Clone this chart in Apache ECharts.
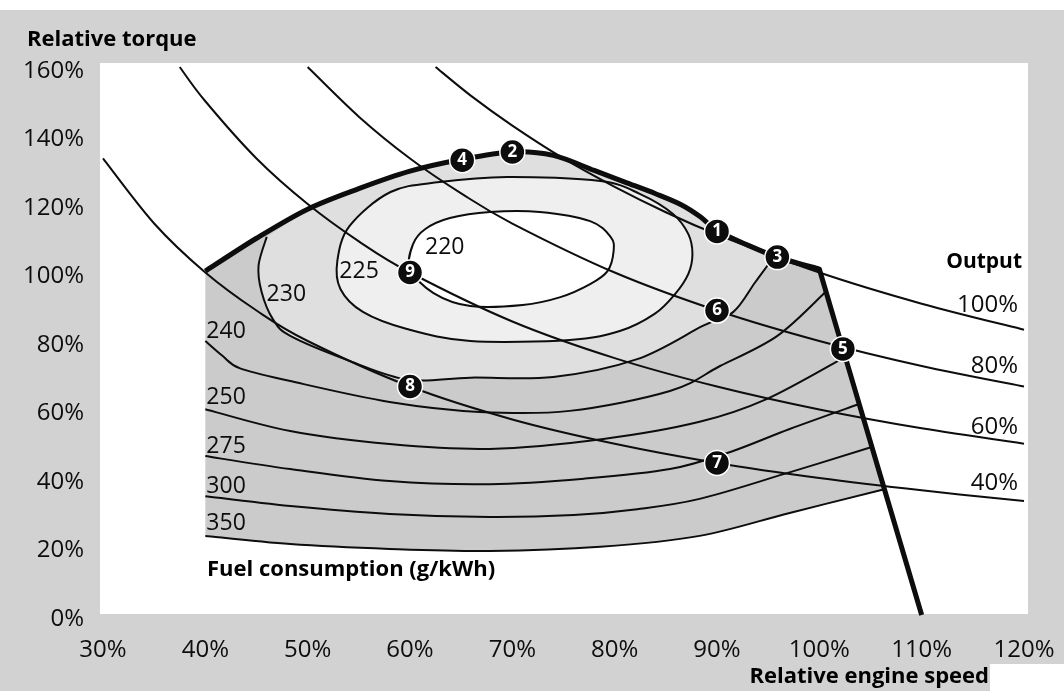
<!DOCTYPE html>
<html>
<head>
<meta charset="utf-8">
<script src="https://cdn.jsdelivr.net/npm/echarts@6/dist/echarts.min.js"></script>
<style>
  html, body { margin: 0; padding: 0; background: #ffffff; }
  #chart { width: 1064px; height: 691px; }
</style>
</head>
<body>
<div id="chart"></div>
<script>
// Engine operating map: relative torque against relative engine speed (both in %)

const speedTicks  = [30, 40, 50, 60, 70, 80, 90, 100, 110, 120];
const torqueTicks = [0, 20, 40, 60, 80, 100, 120, 140, 160];

// Full-load torque curve and governor (speed, torque)
const fullLoad = [[40,100.4],[45,110],[50,118.5],[55,124.5],[60,129.6],[65,133],[70,135.2],[74,134.2],
                  [78,129.8],[81,126.4],[84,123],[86.5,119.8],[88.4,116.2],[90,112.2],[93,108],[95.9,104.5],[100,101]];
const governor = [[100,101],[102.3,77.7],[110,0]];

// Constant-output lines
const output100 = [[62.5,160],[66,151.5],[70,142.9],[75,133.3],[80,125],[85,117.6],[90,111.1],[100,100],[110,90.9],[120,83.3]];
const output80  = [[50,160],[55,145.5],[60,133.3],[65,123.1],[70,114.3],[80,100],[90,88.9],[100,80],[110,72.7],[120,66.7]];
const output60  = [[37.5,160],[40,150],[45,133.3],[50,120],[55,109.1],[60,100],[70,85.7],[80,75],[90,66.7],[100,60],[110,54.5],[120,50]];
const output40  = [[30,133.3],[35,114.3],[40,100],[45,88.9],[50,80],[60,66.7],[70,57.1],[80,50],[90,44.4],[100,40],[110,36.4],[120,33.3]];
const outputLabels = ['100%', '80%', '60%', '40%'];

// Fuel consumption contours (g/kWh)
const bsfc220 = [[60,101],[60.3,108.3],[61.5,112.7],[63.9,115.9],[67.8,117.7],[72.7,117.7],[77.6,115],[79.6,110.4],
                 [79.9,106.3],[79.3,100.4],[77.6,96.6],[74.7,92.8],[71,90.5],[65.9,90.2],[62.3,94]];
const bsfc225 = [[52.9,103.4],[54.1,113.6],[58.1,123.5],[62.9,126.4],[69.5,127.9],[78.6,126.7],[82.5,122.9],[85.7,117.1],
                 [87.2,111.2],[87.6,105.4],[87.2,99.6],[85.9,93.7],[83.9,87.9],[80.5,82.9],[75.6,80.3],[65.9,80],
                 [59.7,83.5],[55.4,88.5],[53.2,95.2]];
const bsfc230 = [[46,110.4],[45.2,102],[45.5,94.3],[46.6,86.4],[48.3,81.5],[54.1,74.2],[59.8,68.7],[65.9,69.3],
                 [74,69.5],[82.2,74.7],[88.6,84.4],[91.6,88.5],[93.7,97],[95.3,103.5]];
const bsfc240 = [[40,80],[41.7,75.6],[43.4,72],[48.3,68.3],[58,62.2],[66.8,59.3],[75.6,59.6],[85.4,65.4],[90.3,72.7],[95.9,81.5],[100.6,94.3]];
const bsfc250 = [[40,60.1],[48.3,53.7],[58,49.9],[67.8,48.5],[78.9,51.4],[88.3,56.4],[94.9,63.1],[102.5,75.3]];
const bsfc275 = [[40,46.4],[48.3,42.6],[58,39.1],[67.8,38.2],[77,39.8],[85.4,42.6],[91.3,47.6],[97.1,54.3],[103.9,61.6]];
const bsfc300 = [[40,34.7],[48.3,31.8],[58,29.5],[67.8,28.6],[76,29.2],[82.2,30.9],[88.3,33.9],[96.6,41.2],[105.2,49.1]];
const bsfc350 = [[40,23.1],[48.3,20.7],[58,19.3],[67.8,18.7],[78.6,19.9],[88.3,23.1],[97.1,29.8],[106.45,36.8]];
const bsfcLabels = ['220', '225', '230', '240', '250', '275', '300', '350'];

// Numbered operating points
const pointSpeed  = [90, 70, 95.9, 65.1, 102.3, 90, 90, 60, 60];
const pointTorque = [112, 135.2, 104.5, 132.8, 77.7, 88.9, 44.4, 66.7, 100];
const pointLabels = ['1', '2', '3', '4', '5', '6', '7', '8', '9'];

// ---------------------------------------------------------------------------
const bsfcCurves = [bsfc220, bsfc225, bsfc230, bsfc240, bsfc250, bsfc275, bsfc300, bsfc350];
const bsfcClosed = [true, true, false, false, false, false, false, false];
const outputCurves = [output100, output80, output60, output40];

const FONT = '"Open Sans", "Noto Sans", sans-serif';
const INK = '#0d0d0d';

// label placement relative to a curve point: [pointIndex, dx, dy]
const bsfcLabelPlace = [[0, 15, -22], [0, 2, 11], [2, 5, 2], [0, 1, -10], [0, 1, -12], [0, 1, -10], [0, 1, -10], [0, 1, -12]];
const outputLabelShift = [[-6, -25], [-6, -20], [-6, -17], [-6, -18]];

function toPx(api, pts) { return pts.map(p => api.coord(p)); }

// Catmull-Rom spline through pixel points, written as cubic Bezier segments
function splineSegs(p, closed) {
  const n = p.length;
  const at = i => closed ? p[(i + n) % n] : p[Math.max(0, Math.min(n - 1, i))];
  const segs = closed ? n : n - 1;
  let d = '';
  for (let i = 0; i < segs; i++) {
    const p0 = at(i - 1), p1 = at(i), p2 = at(i + 1), p3 = at(i + 2);
    const c1x = p1[0] + (p2[0] - p0[0]) / 6, c1y = p1[1] + (p2[1] - p0[1]) / 6;
    const c2x = p2[0] - (p3[0] - p1[0]) / 6, c2y = p2[1] - (p3[1] - p1[1]) / 6;
    d += ' C' + c1x.toFixed(2) + ',' + c1y.toFixed(2) + ' ' + c2x.toFixed(2) + ',' + c2y.toFixed(2) + ' ' + p2[0].toFixed(2) + ',' + p2[1].toFixed(2);
  }
  return d;
}
// several smooth pieces joined by straight lines
function piecesPath(parts, close) {
  let d = '';
  parts.forEach((p, k) => {
    d += (k === 0 ? 'M' : ' L') + p[0][0].toFixed(2) + ',' + p[0][1].toFixed(2);
    d += splineSegs(p, false);
  });
  return close ? d + ' Z' : d;
}
function loopPath(p) {
  return 'M' + p[0][0].toFixed(2) + ',' + p[0][1].toFixed(2) + splineSegs(p, true) + ' Z';
}

const chart = echarts.init(document.getElementById('chart'), null, { renderer: 'canvas' });

const option = {
  animation: false,
  backgroundColor: '#d2d2d2',
  grid: { left: 103, right: 40, top: 67, bottom: 76 },
  xAxis: {
    type: 'value',
    min: speedTicks[0], max: speedTicks[speedTicks.length - 1], interval: 10,
    axisLine: { show: false }, axisTick: { show: false }, splitLine: { show: false },
    axisLabel: { formatter: '{value}%', fontSize: 24, fontFamily: FONT, color: INK, margin: 23 }
  },
  yAxis: {
    type: 'value',
    min: torqueTicks[0], max: torqueTicks[torqueTicks.length - 1], interval: 20,
    axisLine: { show: false }, axisTick: { show: false }, splitLine: { show: false },
    axisLabel: { formatter: '{value}%', fontSize: 24, fontFamily: FONT, color: INK, margin: 19,
                 verticalAlign: 'top', lineHeight: 8 }
  },
  graphic: [
    { type: 'rect', z: 0, shape: { x: 0, y: 0, width: 1064, height: 10 }, style: { fill: '#ffffff' } },
    { type: 'rect', z: 0, shape: { x: 100, y: 63, width: 928, height: 551 }, style: { fill: '#ffffff' } },
    { type: 'rect', z: 0, shape: { x: 990, y: 664, width: 74, height: 27 }, style: { fill: '#ffffff' } },
    { type: 'text', z: 100, x: 27, y: 40, style: { text: 'Relative torque', fill: '#000', font: 'bold 22px ' + FONT, verticalAlign: 'middle', align: 'left' } },
    { type: 'text', z: 100, x: 989, y: 677, style: { text: 'Relative engine speed', fill: '#000', font: 'bold 22px ' + FONT, verticalAlign: 'middle', align: 'right' } },
    { type: 'text', z: 100, x: 207, y: 570, style: { text: 'Fuel consumption (g/kWh)', fill: '#000', font: 'bold 22px ' + FONT, verticalAlign: 'middle', align: 'left' } }
  ],
  series: [
    // shaded regions of the map
    {
      type: 'custom', z: 1, silent: true,
      data: [fullLoad[0]],
      renderItem: (params, api) => {
        const fl = toPx(api, fullLoad);
        const g = toPx(api, governor);
        const end350 = api.coord(bsfc350[bsfc350.length - 1]);
        const rev350 = toPx(api, bsfc350.slice().reverse());
        const envelope = piecesPath([fl, [g[0], g[1]], [g[1], end350], rev350], true);
        const lo = bsfc230[0][0], hi = bsfc230[bsfc230.length - 1][0];
        const top230 = toPx(api, fullLoad.filter(p => p[0] > lo && p[0] < hi).reverse());
        const zone230 = piecesPath([toPx(api, bsfc230), top230], true);
        return {
          type: 'group',
          children: [
            { type: 'path', shape: { pathData: envelope }, style: { fill: '#cbcbcb', stroke: null } },
            { type: 'path', shape: { pathData: zone230 }, style: { fill: '#dfdfdf', stroke: null } },
            { type: 'path', shape: { pathData: loopPath(toPx(api, bsfc225)) }, style: { fill: '#efefef', stroke: null } },
            { type: 'path', shape: { pathData: loopPath(toPx(api, bsfc220)) }, style: { fill: '#ffffff', stroke: null } }
          ]
        };
      }
    },
    // fuel consumption contours
    {
      type: 'custom', z: 2, silent: true,
      data: bsfcCurves.map(c => c[0]),
      renderItem: (params, api) => {
        const i = params.dataIndex;
        const p = toPx(api, bsfcCurves[i]);
        const d = bsfcClosed[i] ? loopPath(p) : piecesPath([p], false);
        const place = bsfcLabelPlace[i];
        const a = p[place[0]];
        return {
          type: 'group',
          children: [
            { type: 'path', shape: { pathData: d }, style: { fill: null, stroke: INK, lineWidth: 2 } },
            { type: 'text', x: a[0] + place[1], y: a[1] + place[2],
              style: { text: bsfcLabels[i], fill: INK, font: '23px ' + FONT, align: 'left', verticalAlign: 'middle' } }
          ]
        };
      }
    },
    // constant-output lines
    {
      type: 'custom', z: 3, silent: true,
      data: outputCurves.map(c => c[c.length - 1]),
      renderItem: (params, api) => {
        const i = params.dataIndex;
        const p = toPx(api, outputCurves[i]);
        const e = p[p.length - 1];
        const s = outputLabelShift[i];
        const kids = [
          { type: 'path', shape: { pathData: piecesPath([p], false) }, style: { fill: null, stroke: INK, lineWidth: 2 } },
          { type: 'text', x: e[0] + s[0], y: e[1] + s[1],
            style: { text: outputLabels[i], fill: INK, font: '24px ' + FONT, align: 'right', verticalAlign: 'middle' } }
        ];
        if (i === 0) {
          kids.push({ type: 'text', x: e[0] - 2, y: e[1] - 68,
            style: { text: 'Output', fill: '#000', font: 'bold 21px ' + FONT, align: 'right', verticalAlign: 'middle' } });
        }
        return { type: 'group', children: kids };
      }
    },
    // full-load curve and governor
    {
      type: 'custom', z: 4, silent: true,
      data: [fullLoad[0]],
      renderItem: (params, api) => {
        const fl = toPx(api, fullLoad);
        const g = toPx(api, governor);
        return {
          type: 'path',
          shape: { pathData: piecesPath([fl, [g[0], g[1]], [g[1], g[2]]], false) },
          style: { fill: null, stroke: '#0d0d0d', lineWidth: 5, lineJoin: 'round' }
        };
      }
    },
    // numbered operating points
    {
      type: 'scatter', z: 10, silent: true,
      data: pointSpeed.map((s, i) => [s, pointTorque[i], pointLabels[i]]),
      symbol: 'circle', symbolSize: 25,
      itemStyle: { color: '#0d0d0d', borderColor: '#ffffff', borderWidth: 1.5, opacity: 1 },
      label: { show: true, position: 'inside', formatter: p => p.value[2], color: '#ffffff',
               fontWeight: 'bold', fontSize: 17, fontFamily: FONT }
    }
  ]
};

chart.setOption(option);
</script>
</body>
</html>
